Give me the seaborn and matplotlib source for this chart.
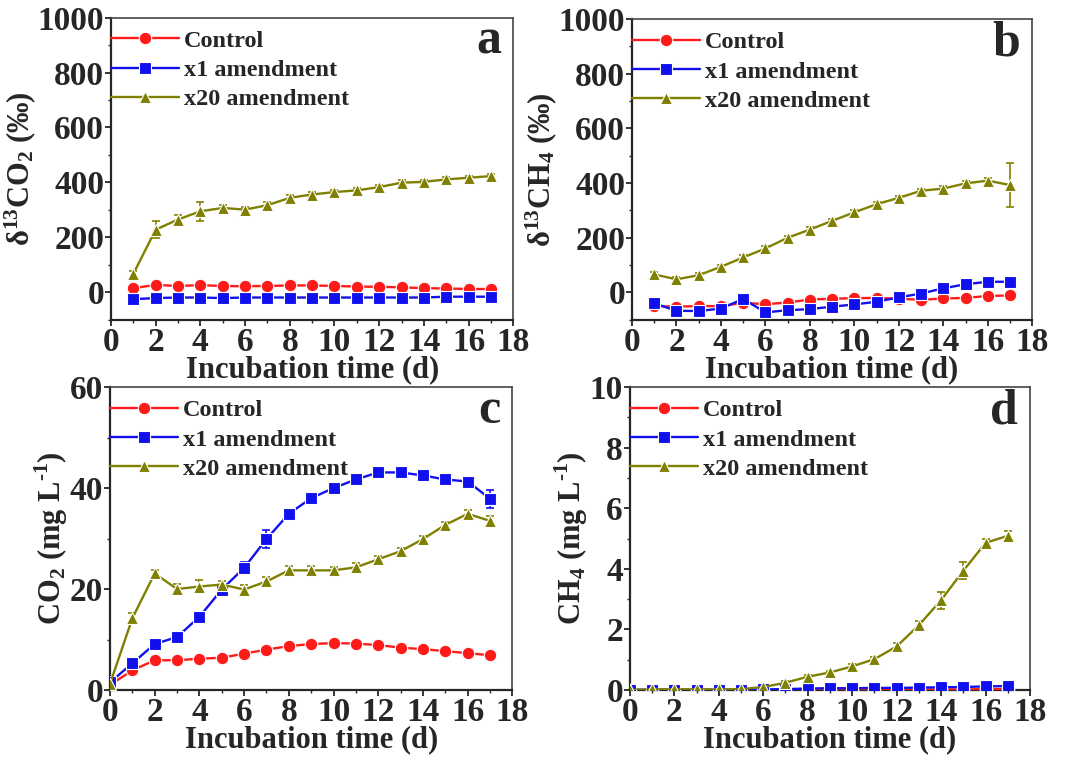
import matplotlib
matplotlib.use('Agg')
from matplotlib import pyplot as plt
from matplotlib.ticker import MultipleLocator
import seaborn as sns
import pandas as pd

sns.set_style('ticks')
plt.rcParams['font.family'] = ['Liberation Serif', 'DejaVu Serif']
plt.rcParams['font.weight'] = 'bold'
plt.rcParams['mathtext.fontset'] = 'custom'
plt.rcParams['mathtext.rm'] = 'Liberation Serif:bold'
plt.rcParams['mathtext.bf'] = 'Liberation Serif:bold'

SERIES = ['Control', 'x1 amendment', 'x20 amendment']
COLORS = {'Control': '#ff1a1a', 'x1 amendment': '#1010ee', 'x20 amendment': '#808000'}
MARKERS = {'Control': 'o', 'x1 amendment': 's', 'x20 amendment': '^'}

days_ab = list(range(1, 18))
days_cd = list(range(0, 18))

# panel a: d13CO2 (permil)
a_control = [15, 27, 23, 26, 23, 22, 23, 25, 25, 23, 21, 20, 18, 15, 14, 12, 12]
a_x1 = [-25, -21, -19, -19, -21, -19, -19, -19, -19, -19, -19, -19, -19, -19, -16, -16, -16]
a_x20 = [67, 228, 265, 295, 307, 301, 317, 344, 356, 365, 371, 383, 399, 402, 411, 417, 423]
a_x20_err = [12, 32, 15, 35, 10, 10, 10, 12, 10, 8, 8, 8, 8, 8, 8, 8, 8]

# panel b: d13CH4 (permil)
b_control = [-50, -52, -50, -50, -38, -43, -37, -26, -23, -21, -20, -23, -27, -22, -20, -13, -11]
b_x1 = [-40, -67, -68, -59, -24, -73, -65, -61, -52, -44, -34, -18, -4, 15, 30, 39, 39]
b_x20 = [66, 48, 63, 94, 128, 161, 200, 230, 262, 293, 323, 346, 372, 380, 399, 409, 393]
b_x20_err = [8, 8, 8, 8, 8, 8, 8, 8, 8, 8, 8, 8, 8, 10, 8, 8, 80]

# panel c: CO2 (mg/L)
c_control = [1.0, 3.9, 5.9, 5.9, 6.2, 6.4, 7.2, 8.0, 8.7, 9.1, 9.3, 9.2, 8.9, 8.4, 8.1, 7.7, 7.3, 6.9]
c_x1 = [1.5, 5.3, 9.1, 10.5, 14.5, 19.9, 24.2, 29.9, 34.9, 38.0, 40.0, 41.7, 43.1, 43.1, 42.5, 41.7, 41.3, 37.9]
c_x1_err = [0.3, 0.5, 0.4, 0.4, 0.6, 0.6, 1.2, 1.8, 0.8, 0.6, 0.5, 0.5, 0.4, 0.4, 0.4, 0.4, 0.5, 1.8]
c_x20 = [1.2, 14.2, 23.1, 20.0, 20.5, 20.9, 19.9, 21.5, 23.7, 23.7, 23.7, 24.3, 25.9, 27.5, 29.9, 32.7, 34.9, 33.5]
c_x20_err = [0.3, 1.0, 0.6, 1.0, 1.2, 0.6, 1.0, 0.8, 0.8, 0.8, 0.6, 0.8, 0.6, 0.6, 0.6, 0.6, 0.8, 1.0]

# panel d: CH4 (mg/L)
d_control = [0.0, 0.0, 0.0, 0.0, 0.0, 0.0, 0.0, 0.0, 0.01, 0.01, 0.01, 0.01, 0.01, 0.01, 0.02, 0.02, 0.03, 0.03]
d_x1 = [0.01, 0.01, 0.01, 0.01, 0.01, 0.01, 0.02, 0.03, 0.05, 0.06, 0.06, 0.07, 0.07, 0.08, 0.09, 0.1, 0.12, 0.13]
d_x20 = [0.0, 0.02, 0.02, 0.02, 0.02, 0.03, 0.1, 0.24, 0.44, 0.58, 0.78, 1.02, 1.44, 2.14, 2.97, 3.94, 4.86, 5.09]
d_x20_err = [0, 0, 0, 0, 0, 0, 0.02, 0.05, 0.05, 0.06, 0.08, 0.08, 0.12, 0.15, 0.28, 0.28, 0.12, 0.15]

panels = [
    ('a', days_ab, {'Control': (a_control, None), 'x1 amendment': (a_x1, None), 'x20 amendment': (a_x20, a_x20_err)},
     (-100, 1000), 200, 100, r'$\mathbf{\delta^{13}CO_2}$ (‰)'),
    ('b', days_ab, {'Control': (b_control, None), 'x1 amendment': (b_x1, None), 'x20 amendment': (b_x20, b_x20_err)},
     (-100, 1000), 200, 100, r'$\mathbf{\delta^{13}CH_4}$ (‰)'),
    ('c', days_cd, {'Control': (c_control, None), 'x1 amendment': (c_x1, c_x1_err), 'x20 amendment': (c_x20, c_x20_err)},
     (0, 60), 20, 10, 'CO$_2$ (mg L$^{\u2010 1}$)'),
    ('d', days_cd, {'Control': (d_control, None), 'x1 amendment': (d_x1, None), 'x20 amendment': (d_x20, d_x20_err)},
     (0, 10), 2, 1, 'CH$_4$ (mg L$^{\u2010 1}$)'),
]

positions = [
    [0.1034, 0.582, 0.375, 0.395],
    [0.589, 0.582, 0.373, 0.393],
    [0.1025, 0.098, 0.375, 0.396],
    [0.587, 0.098, 0.373, 0.396],
]

fig = plt.figure(figsize=(10.73, 7.65), dpi=100)

for (letter, days, data, ylim, major, minor, ylabel), pos in zip(panels, positions):
    ax = fig.add_axes(pos)
    rows = []
    for name in SERIES:
        vals, _ = data[name]
        rows += [(d, v, name) for d, v in zip(days, vals)]
    df = pd.DataFrame(rows, columns=['day', 'value', 'series'])
    sns.lineplot(data=df, x='day', y='value', hue='series', style='series',
                 palette=COLORS, markers=MARKERS, dashes=False, markersize=9,
                 linewidth=1.7, markeredgewidth=0.8, ax=ax, zorder=3)
    for name in SERIES:
        vals, err = data[name]
        if err is not None:
            ax.errorbar(days, vals, yerr=err, fmt='none', ecolor=COLORS[name],
                        elinewidth=1.2, capsize=3, capthick=1.2, zorder=2)
    ax.set_xlim(0, 18)
    ax.set_ylim(*ylim)
    ax.xaxis.set_major_locator(MultipleLocator(2))
    ax.xaxis.set_minor_locator(MultipleLocator(1))
    ax.yaxis.set_major_locator(MultipleLocator(major))
    ax.yaxis.set_minor_locator(MultipleLocator(minor))
    ax.tick_params(which='major', direction='out', length=4, width=1.3, labelsize=24, pad=1)
    ax.tick_params(which='minor', direction='out', length=2.5, width=1.0)
    for side in ['left', 'bottom']:
        ax.spines[side].set_linewidth(1.6)
    for side in ['top', 'right']:
        ax.spines[side].set_linewidth(1.2)
        ax.spines[side].set_color('#444444')
    for lab in ax.get_xticklabels() + ax.get_yticklabels():
        lab.set_fontweight('bold')
    ax.set_xlabel('Incubation time (d)', fontsize=22, fontweight='bold', labelpad=-2)
    ax.set_ylabel(ylabel, fontsize=22, fontweight='bold', labelpad=0)
    ax.text(0.97, 0.92, letter, transform=ax.transAxes, ha='right', va='center',
            fontsize=36, fontweight='bold')
    leg = ax.legend(loc='upper left', frameon=False, fontsize=17.5, handlelength=2.8,
                    handletextpad=0.2, labelspacing=0.3, borderaxespad=0.1,
                    bbox_to_anchor=(-0.03, 1.0))
    for h in leg.legend_handles:
        h.set_markersize(9)
        h.set_linewidth(1.7)
    for t in leg.get_texts():
        t.set_fontweight('bold')

fig.savefig('out.png', dpi=100)
